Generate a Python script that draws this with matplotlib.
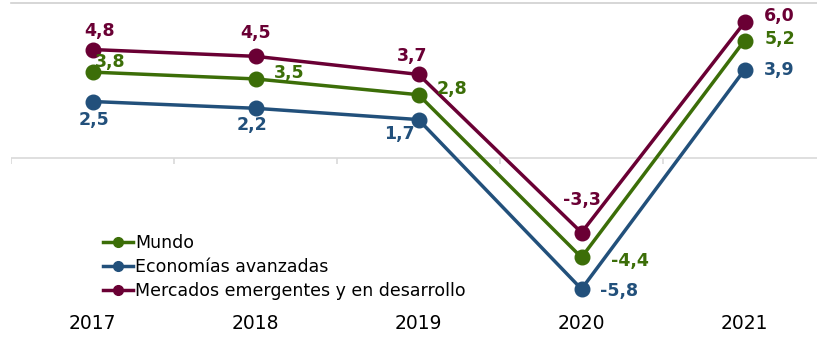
import matplotlib
matplotlib.use("Agg")
import matplotlib.pyplot as plt
from matplotlib.lines import Line2D

plt.rcParams['font.family'] = ['DejaVu Sans']

# Growth data (%)
years = ['2017', '2018', '2019', '2020', '2021']
mundo = [3.8, 3.5, 2.8, -4.4, 5.2]
avanzadas = [2.5, 2.2, 1.7, -5.8, 3.9]
emergentes = [4.8, 4.5, 3.7, -3.3, 6.0]

series_names = ['Mundo', 'Economías avanzadas', 'Mercados emergentes y en desarrollo']
colors = ['#3C6E08', '#22507B', '#6A0034']

# label offsets in pixels (dx, dy) relative to each point, screen y up
offsets = {
    'Mundo': [(18, 10), (34, 6), (33, 6), (48, -4), (35, 2)],
    'Economías avanzadas': [(1, -18), (-3, -17), (-19, -14), (38, -2), (35, 0)],
    'Mercados emergentes y en desarrollo': [(7, 19), (0, 23), (-6, 18), (0, 33), (35, 6)],
}

W, H = 817, 338
fig = plt.figure(figsize=(W / 100, H / 100), dpi=100)
ax = fig.add_axes([11 / W, (H - 313) / H, 815 / W, 310 / H])

x = list(range(len(years)))
all_series = [mundo, avanzadas, emergentes]

for name, vals, col in zip(series_names, all_series, colors):
    ax.plot(x, vals, color=col, lw=2.5, marker='o', ms=10.5, zorder=3)
    for i, v in enumerate(vals):
        dx, dy = offsets[name][i]
        ax.annotate(f"{v:.1f}".replace('.', ','), (i, v),
                    xytext=(dx * 0.72, dy * 0.72), textcoords='offset points',
                    ha='center', va='center', color=col,
                    fontsize=12.5, fontweight='bold', zorder=4)

ymax = 6.86
ax.set_xlim(-0.5, 4.5)
ax.set_ylim(-ymax, ymax)

# light gray line on top and zero axis with category tick marks
ax.axhline(ymax, color='#d0d0d0', lw=1.2, zorder=1, clip_on=False)
ax.axhline(0, color='#d9d9d9', lw=1.2, zorder=1)
ax.vlines([-0.5, 0.5, 1.5, 2.5, 3.5], -0.25, 0, color='#d9d9d9', lw=1.2, zorder=1)

for s in ax.spines.values():
    s.set_visible(False)
ax.set_yticks([])
ax.set_xticks(x)
ax.set_xticklabels(years, fontsize=13.5)
ax.tick_params(axis='x', length=0, pad=1)

handles = [Line2D([], [], color=c, lw=2.5, marker='o', ms=7) for c in colors]
fig.legend(handles, series_names, loc='upper left',
           bbox_to_anchor=(103 / W, 1 - 234 / H), bbox_transform=fig.transFigure,
           frameon=False, fontsize=12.5, handlelength=1.75, handletextpad=0.1,
           labelspacing=0.36, borderpad=0, borderaxespad=0)

fig.savefig('out.png', dpi=100)
